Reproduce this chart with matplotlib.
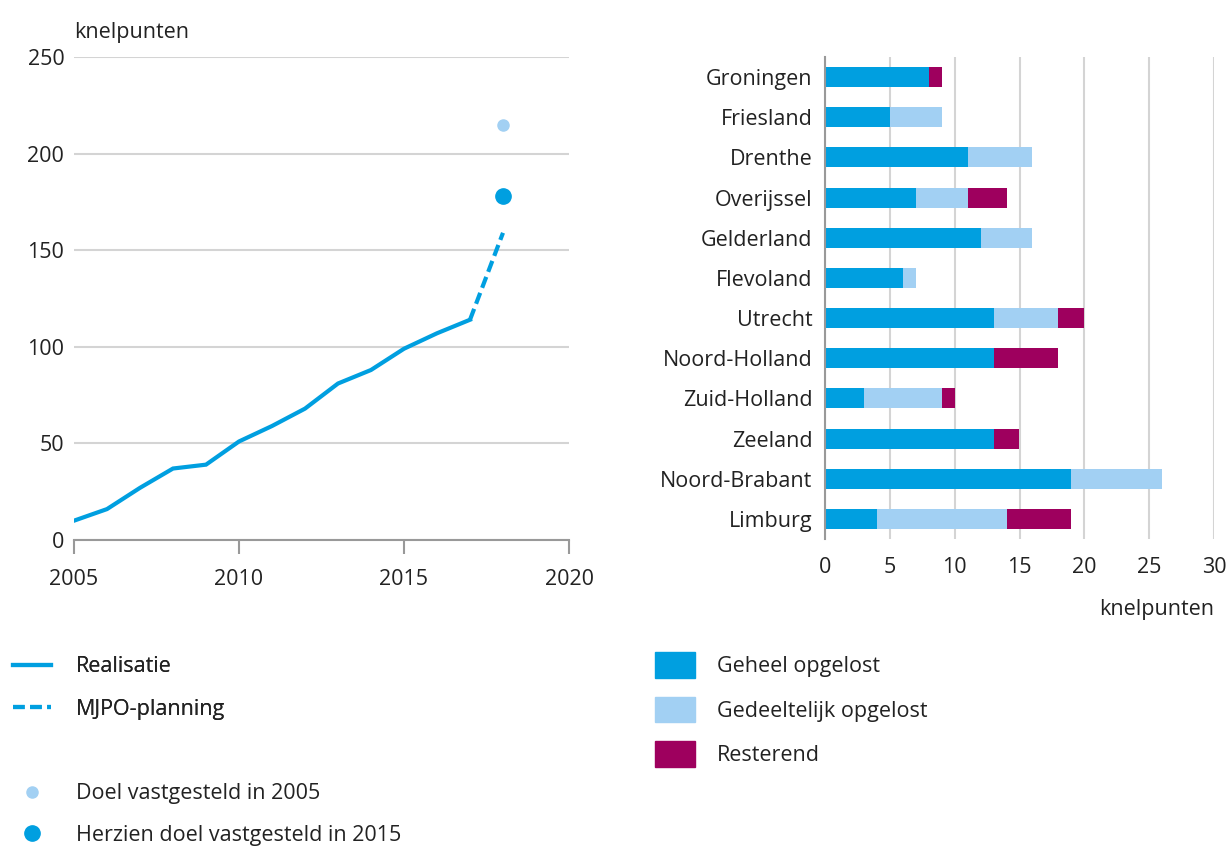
import matplotlib
matplotlib.use("Agg")
from matplotlib import pyplot as plt
from matplotlib.lines import Line2D
from matplotlib.patches import Patch

plt.rcParams['font.family'] = ['Open Sans', 'DejaVu Sans']

# line chart data
years = [2005, 2006, 2007, 2008, 2009, 2010, 2011, 2012, 2013, 2014, 2015, 2016, 2017]
realisatie = [10, 16, 27, 37, 39, 51, 59, 68, 81, 88, 99, 107, 114]
plan_years = [2017, 2018]
planning = [114, 159]
doel_2005 = 215
doel_2015 = 178
doel_year = 2018

# bar chart data
provincies = ['Groningen', 'Friesland', 'Drenthe', 'Overijssel', 'Gelderland', 'Flevoland',
              'Utrecht', 'Noord-Holland', 'Zuid-Holland', 'Zeeland', 'Noord-Brabant', 'Limburg']
geheel = [8, 5, 11, 7, 12, 6, 13, 13, 3, 13, 19, 4]
gedeeltelijk = [0, 4, 5, 4, 4, 1, 5, 0, 6, 0, 7, 10]
resterend = [1, 0, 0, 3, 0, 0, 2, 5, 1, 2, 0, 5]

blue = '#009fe0'
light = '#a2d0f3'
purple = '#9e005e'
txt = '#222222'
grid = '#d4d4d4'
fs = 15.5
dash = (0, (2.8, 1.3))

fig = plt.figure(figsize=(12.29, 8.46), dpi=100)

# left chart
ax = fig.add_axes([74 / 1229, 1 - 540 / 846, 495 / 1229, 483 / 846])
ax.plot(years, realisatie, color=blue, lw=3, solid_joinstyle='miter')
ax.plot(plan_years, planning, color=blue, lw=3, ls=dash)
ax.plot([doel_year], [doel_2005], 'o', color=light, ms=8)
ax.plot([doel_year], [doel_2015], 'o', color=blue, ms=11)
ax.set_xlim(2005, 2020)
ax.set_ylim(0, 250)
ax.set_xticks([2005, 2010, 2015, 2020])
ax.set_yticks([0, 50, 100, 150, 200, 250])
ax.yaxis.grid(True, color=grid, lw=1.5)
ax.set_axisbelow(True)
for s in ['top', 'right', 'left']:
    ax.spines[s].set_visible(False)
ax.spines['bottom'].set_color('#999999')
ax.spines['bottom'].set_linewidth(1.5)
ax.tick_params(axis='y', length=0, pad=7, labelsize=fs, labelcolor=txt)
ax.tick_params(axis='x', length=10, width=1.5, color='#999999', pad=11, labelsize=fs, labelcolor=txt)
ax.text(0, 1.03, 'knelpunten', transform=ax.transAxes, fontsize=fs, color=txt, va='bottom', ha='left')

# right chart
bx = fig.add_axes([825 / 1229, 1 - 539 / 846, 389 / 1229, 482 / 846])
ypos = list(range(len(provincies)))
left2 = [a + b for a, b in zip(geheel, gedeeltelijk)]
bx.barh(ypos, geheel, height=0.5, color=blue)
bx.barh(ypos, gedeeltelijk, left=geheel, height=0.5, color=light)
bx.barh(ypos, resterend, left=left2, height=0.5, color=purple)
bx.set_yticks(ypos)
bx.set_yticklabels(provincies)
bx.set_ylim(11.5, -0.5)
bx.set_xlim(0, 30)
bx.set_xticks([0, 5, 10, 15, 20, 25, 30])
bx.xaxis.grid(True, color=grid, lw=1.5)
bx.set_axisbelow(True)
for s in ['top', 'right', 'bottom']:
    bx.spines[s].set_visible(False)
bx.spines['left'].set_color('#999999')
bx.spines['left'].set_linewidth(1.5)
bx.tick_params(axis='y', length=0, pad=9, labelsize=fs, labelcolor=txt)
bx.tick_params(axis='x', length=0, pad=13, labelsize=fs, labelcolor=txt)
bx.text(1.0, -0.125, 'knelpunten', transform=bx.transAxes, fontsize=fs, color=txt, va='top', ha='right')

# legends
h1 = [Line2D([], [], color=blue, lw=3), Line2D([], [], color=blue, lw=3, ls=dash)]
leg1 = fig.legend(h1, ['Realisatie', 'MJPO-planning'], loc='upper left',
                  bbox_to_anchor=(-0.005, 1 - 637 / 846), frameon=False, fontsize=fs,
                  handlelength=1.75, handletextpad=1.15, labelspacing=1.0, labelcolor=txt)
h2 = [Line2D([], [], color=light, marker='o', ls='', ms=8),
      Line2D([], [], color=blue, marker='o', ls='', ms=11)]
leg2 = fig.legend(h2, ['Doel vastgesteld in 2005', 'Herzien doel vastgesteld in 2015'], loc='upper left',
                  bbox_to_anchor=(-0.005, 1 - 764 / 846), frameon=False, fontsize=fs,
                  handlelength=1.75, handletextpad=1.15, labelspacing=0.95, labelcolor=txt)
fig.add_artist(leg1)
h3 = [Patch(color=blue), Patch(color=light), Patch(color=purple)]
fig.legend(h3, ['Geheel opgelost', 'Gedeeltelijk opgelost', 'Resterend'], loc='upper left',
           bbox_to_anchor=(636 / 1229, 1 - 633 / 846), frameon=False, fontsize=fs,
           handlelength=1.85, handleheight=1.45, handletextpad=1.0, labelspacing=0.88, labelcolor=txt)

fig.savefig('out.png', dpi=100)
